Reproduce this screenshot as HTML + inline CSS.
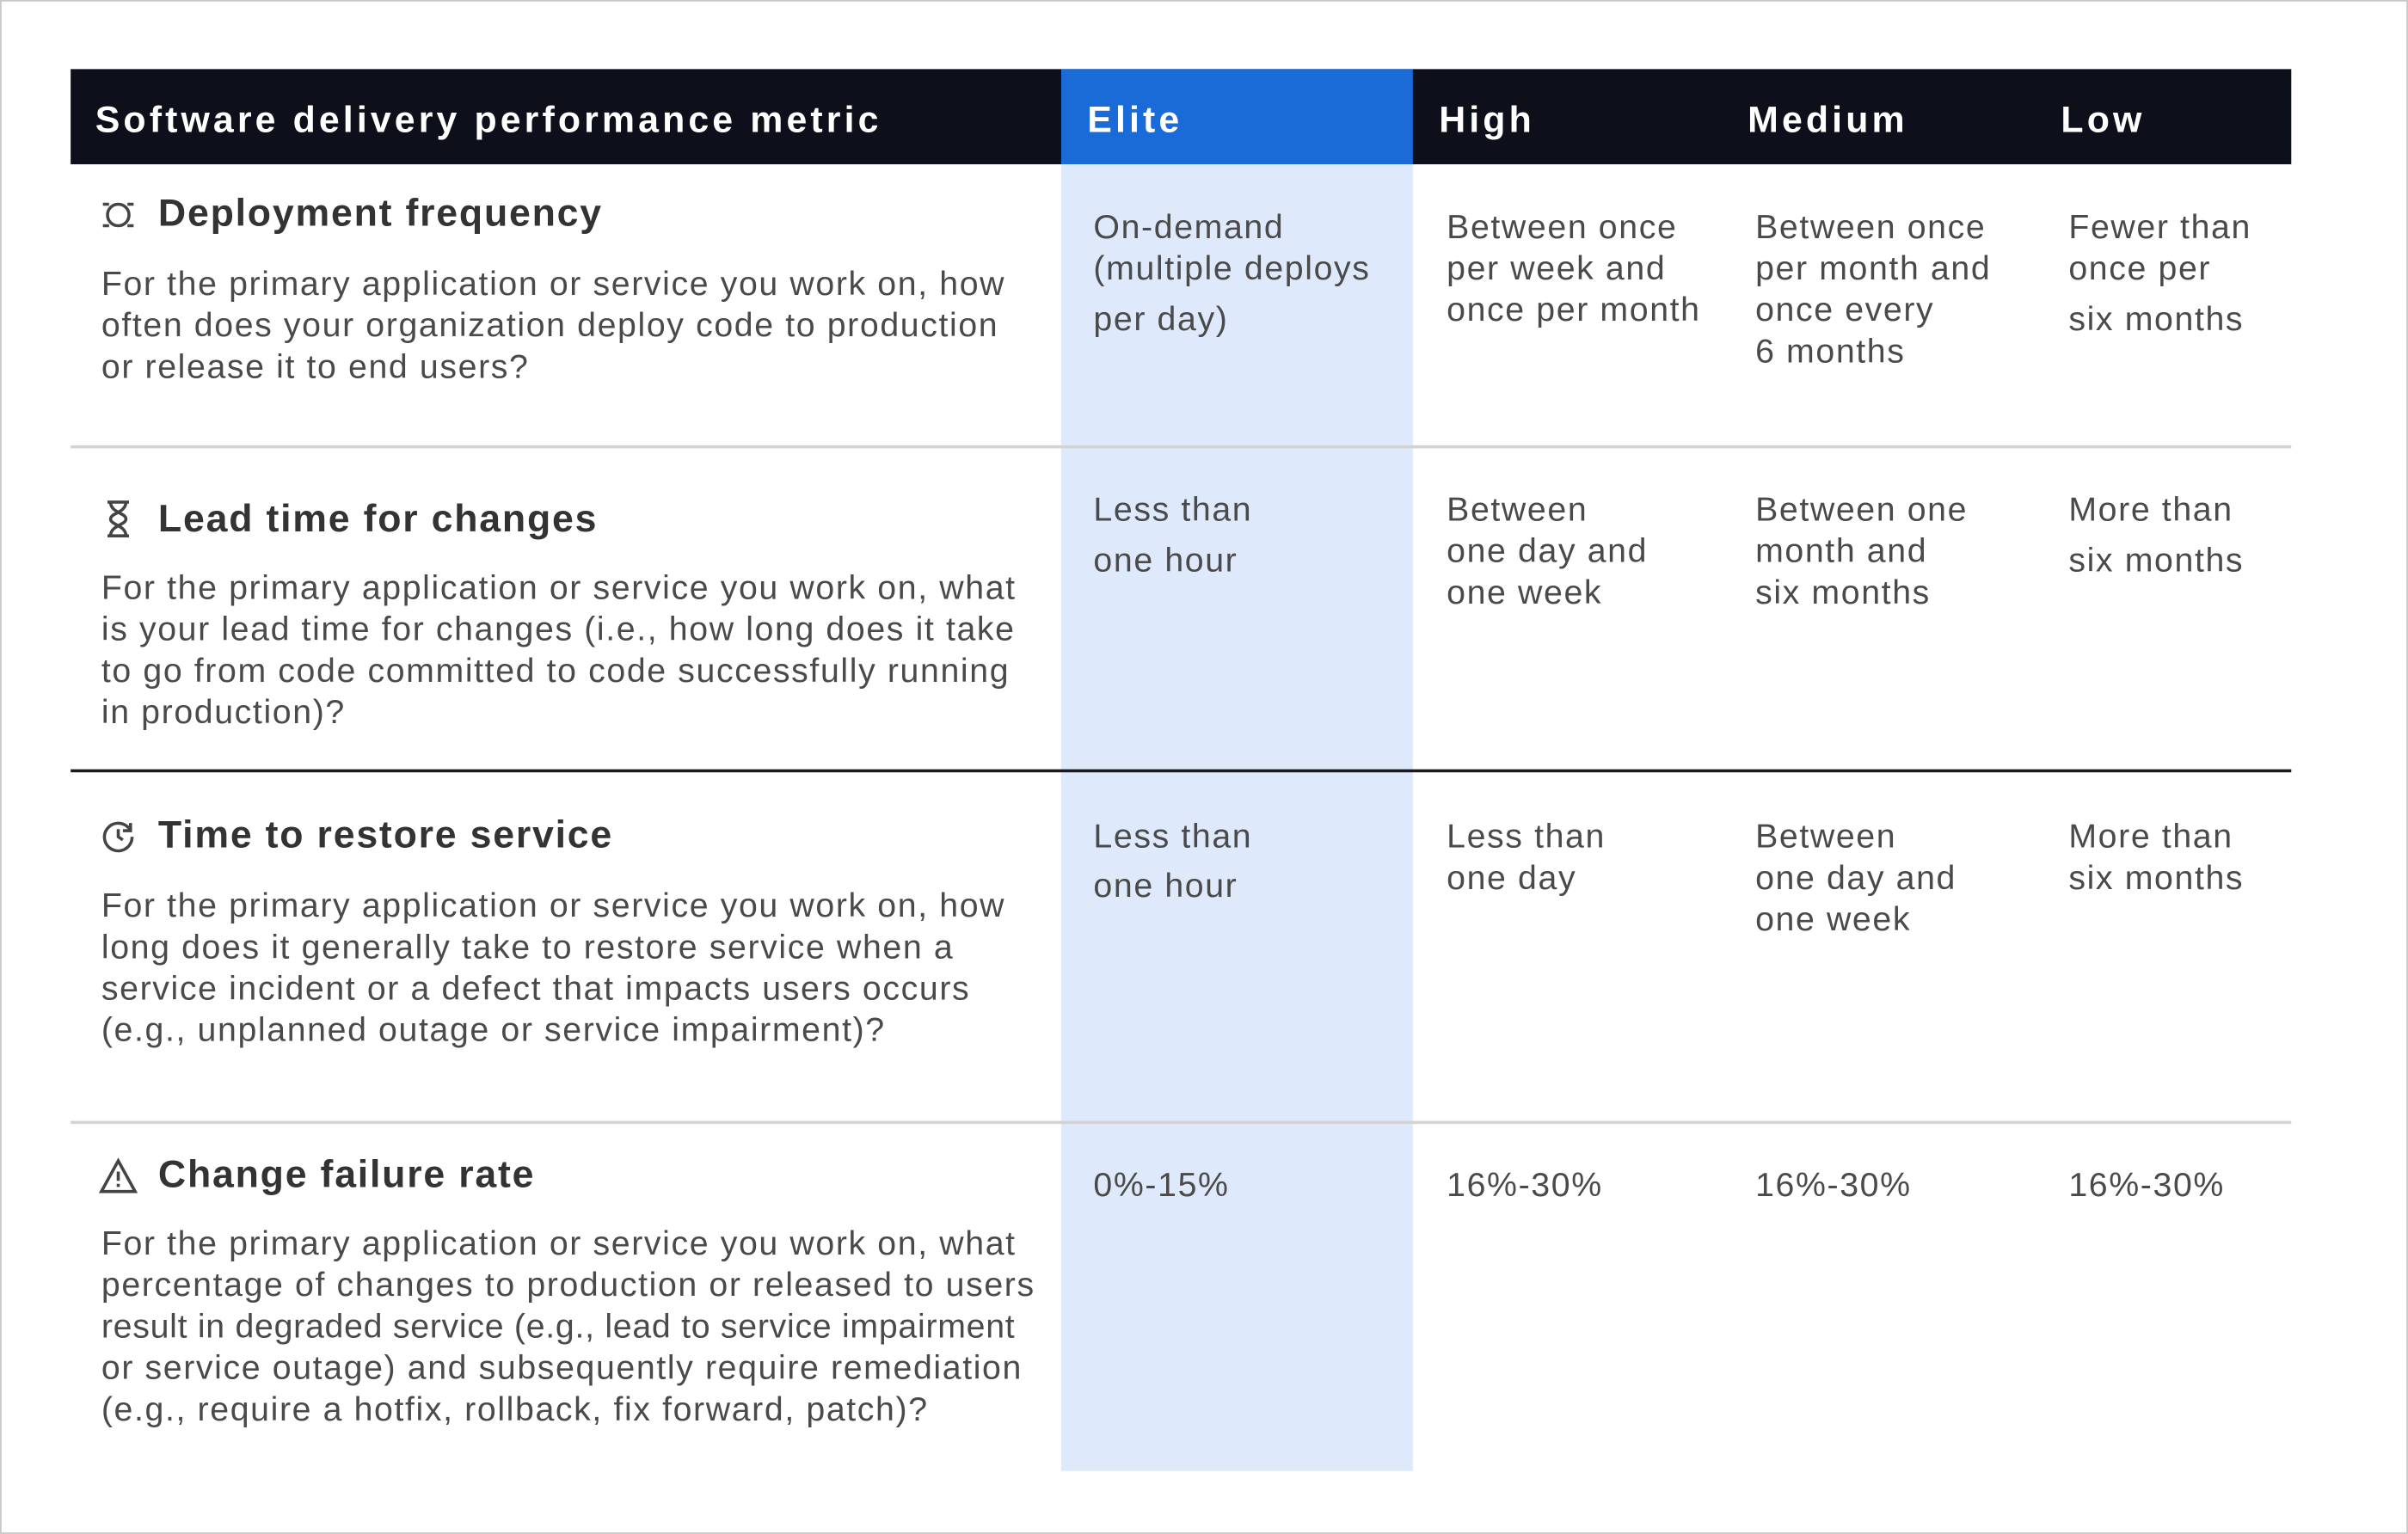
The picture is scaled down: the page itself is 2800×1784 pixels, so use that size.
<!DOCTYPE html>
<html><head><meta charset="utf-8"><style>
html,body{margin:0;padding:0;background:#fff;}
body{width:2800px;height:1784px;overflow:hidden;position:relative;}
#s{position:absolute;left:0;top:0;width:1568px;height:999px;transform:scale(1.78571);transform-origin:0 0;font-family:"Liberation Sans",sans-serif;}
.b{position:absolute;}
.t{position:absolute;white-space:nowrap;line-height:27px;height:27px;}
.h{color:#fff;font-weight:bold;font-size:24px;letter-spacing:2.3px;}
.ti{color:#333;font-weight:bold;font-size:25px;letter-spacing:1px;}
.d{color:#4a4a4a;font-size:22px;letter-spacing:0.9px;}
.c{color:#4a4a4a;font-size:22px;letter-spacing:0.9px;}
</style></head><body><div id="s">
<div class="b" style="left:0;top:0;width:1566px;height:997px;border:1px solid #c8c8c8"></div>
<div class="b" style="left:46px;top:45px;width:1446px;height:62px;background:#0d0f1a"></div>
<div class="b" style="left:691px;top:45px;width:229px;height:62px;background:#1a6ad8"></div>
<div class="b" style="left:691px;top:107px;width:229px;height:851px;background:#dee9fb"></div>
<div class="b" style="left:46px;top:290px;width:1446px;height:2px;background:#d3d3d3"></div>
<div class="b" style="left:46px;top:501px;width:1446px;height:2px;background:#1a1a1a"></div>
<div class="b" style="left:46px;top:730px;width:1446px;height:2px;background:#d3d3d3"></div>

<div class="t h" style="left:62px;top:65px">Software delivery performance metric</div>
<div class="t h" style="left:708px;top:65px">Elite</div>
<div class="t h" style="left:937px;top:65px">High</div>
<div class="t h" style="left:1138px;top:65px">Medium</div>
<div class="t h" style="left:1342px;top:65px">Low</div>

<svg class="b" style="left:65px;top:128px" width="24" height="24" viewBox="0 0 24 24" fill="none" stroke="#444" stroke-width="2"><circle cx="12" cy="12" r="7"/><path d="M2 5h4M18 5h4M2 19h4M18 19h4"/></svg>
<div class="t ti" style="left:103px;top:126px">Deployment frequency</div>
<div class="t d" style="left:66px;top:171px">For the primary application or service you work on, how</div>
<div class="t d" style="left:66px;top:198px">often does your organization deploy code to production</div>
<div class="t d" style="left:66px;top:225px">or release it to end users?</div>
<div class="t c" style="left:712px;top:134px">On-demand</div>
<div class="t c" style="left:712px;top:161px">(multiple deploys</div>
<div class="t c" style="left:712px;top:194px">per day)</div>
<div class="t c" style="left:942px;top:134px">Between once</div>
<div class="t c" style="left:942px;top:161px">per week and</div>
<div class="t c" style="left:942px;top:188px">once per month</div>
<div class="t c" style="left:1143px;top:134px">Between once</div>
<div class="t c" style="left:1143px;top:161px">per month and</div>
<div class="t c" style="left:1143px;top:188px">once every</div>
<div class="t c" style="left:1143px;top:215px">6 months</div>
<div class="t c" style="left:1347px;top:134px">Fewer than</div>
<div class="t c" style="left:1347px;top:161px">once per</div>
<div class="t c" style="left:1347px;top:194px">six months</div>

<svg class="b" style="left:66px;top:325px" width="22" height="26" viewBox="0 0 22 26" fill="none" stroke="#444" stroke-width="2"><path d="M4 2h14M4 24h14M6 2c0 7 10 7 10 11S6 17 6 24M16 2c0 7-10 7-10 11s10 4 10 11"/></svg>
<div class="t ti" style="left:103px;top:325px">Lead time for changes</div>
<div class="t d" style="left:66px;top:369px">For the primary application or service you work on, what</div>
<div class="t d" style="left:66px;top:396px">is your lead time for changes (i.e., how long does it take</div>
<div class="t d" style="left:66px;top:423px">to go from code committed to code successfully running</div>
<div class="t d" style="left:66px;top:450px">in production)?</div>
<div class="t c" style="left:712px;top:318px">Less than</div>
<div class="t c" style="left:712px;top:351px">one hour</div>
<div class="t c" style="left:942px;top:318px">Between</div>
<div class="t c" style="left:942px;top:345px">one day and</div>
<div class="t c" style="left:942px;top:372px">one week</div>
<div class="t c" style="left:1143px;top:318px">Between one</div>
<div class="t c" style="left:1143px;top:345px">month and</div>
<div class="t c" style="left:1143px;top:372px">six months</div>
<div class="t c" style="left:1347px;top:318px">More than</div>
<div class="t c" style="left:1347px;top:351px">six months</div>

<svg class="b" style="left:65px;top:533px" width="24" height="24" viewBox="0 0 24 24" fill="none" stroke="#444" stroke-width="2"><path d="M20 8A9 9 0 1 0 21 12"/><path d="M20 3v5h-5"/><path d="M12 7v5l3 2"/></svg>
<div class="t ti" style="left:103px;top:531px">Time to restore service</div>
<div class="t d" style="left:66px;top:576px">For the primary application or service you work on, how</div>
<div class="t d" style="left:66px;top:603px">long does it generally take to restore service when a</div>
<div class="t d" style="left:66px;top:630px">service incident or a defect that impacts users occurs</div>
<div class="t d" style="left:66px;top:657px">(e.g., unplanned outage or service impairment)?</div>
<div class="t c" style="left:712px;top:531px">Less than</div>
<div class="t c" style="left:712px;top:563px">one hour</div>
<div class="t c" style="left:942px;top:531px">Less than</div>
<div class="t c" style="left:942px;top:558px">one day</div>
<div class="t c" style="left:1143px;top:531px">Between</div>
<div class="t c" style="left:1143px;top:558px">one day and</div>
<div class="t c" style="left:1143px;top:585px">one week</div>
<div class="t c" style="left:1347px;top:531px">More than</div>
<div class="t c" style="left:1347px;top:558px">six months</div>

<svg class="b" style="left:64px;top:754px" width="26" height="24" viewBox="0 0 26 24" fill="none" stroke="#444" stroke-width="2"><path d="M13 2L2 22h22z"/><path d="M13 9v6M13 17v2"/></svg>
<div class="t ti" style="left:103px;top:752px">Change failure rate</div>
<div class="t d" style="left:66px;top:796px">For the primary application or service you work on, what</div>
<div class="t d" style="left:66px;top:823px">percentage of changes to production or released to users</div>
<div class="t d" style="left:66px;top:850px;letter-spacing:0.4px">result in degraded service (e.g., lead to service impairment</div>
<div class="t d" style="left:66px;top:877px">or service outage) and subsequently require remediation</div>
<div class="t d" style="left:66px;top:904px">(e.g., require a hotfix, rollback, fix forward, patch)?</div>
<div class="t c" style="left:712px;top:758px">0%-15%</div>
<div class="t c" style="left:942px;top:758px">16%-30%</div>
<div class="t c" style="left:1143px;top:758px">16%-30%</div>
<div class="t c" style="left:1347px;top:758px">16%-30%</div>
</div></body></html>
